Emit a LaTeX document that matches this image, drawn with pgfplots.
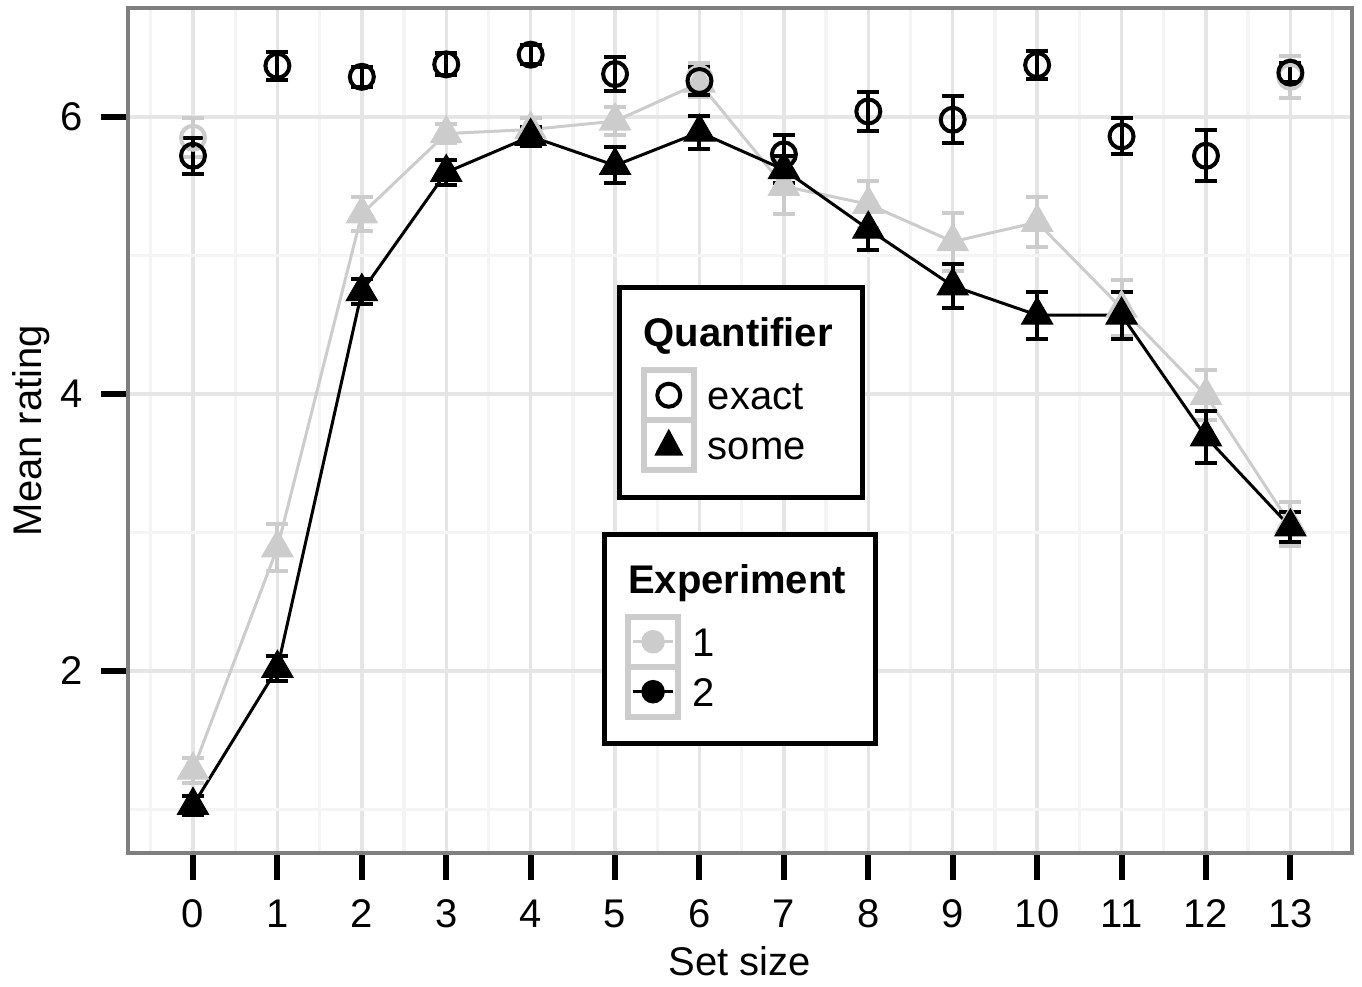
\documentclass[border=0pt]{standalone}
\usepackage{pgfplots}
\pgfplotsset{compat=1.18}
\usepackage{pgfplotstable}
\usepackage{fontspec}
\setmainfont{Liberation Sans}
\definecolor{g80}{RGB}{204,204,204}
\definecolor{gridA}{RGB}{229,229,229}
\definecolor{gridB}{RGB}{244,244,244}
\definecolor{frame}{RGB}{127,127,127}

% Experiment 2, "some"
\pgfplotstableread{
x y e
0 1.03 0.07
1 2.02 0.09
2 4.74 0.09
3 5.60 0.09
4 5.86 0.07
5 5.65 0.13
6 5.89 0.12
7 5.62 0.10
8 5.19 0.15
9 4.78 0.16
10 4.57 0.17
11 4.57 0.17
12 3.69 0.19
13 3.04 0.11
}\someB
% Experiment 1, "some"
\pgfplotstableread{
x y e
0 1.285 0.09
1 2.89 0.17
2 5.30 0.12
3 5.88 0.07
4 5.91 0.08
5 5.97 0.10
6 6.245 0.10
7 5.50 0.20
8 5.37 0.17
9 5.10 0.21
10 5.24 0.18
11 4.62 0.20
12 3.99 0.18
13 3.06 0.16
}\someA
% Experiment 2, "exact"
\pgfplotstableread{
x y e
0 5.72 0.13
1 6.37 0.10
2 6.29 0.07
3 6.38 0.08
4 6.45 0.07
5 6.31 0.12
6 6.26 0.10
7 5.73 0.14
8 6.04 0.14
9 5.98 0.17
10 6.375 0.10
11 5.86 0.13
12 5.72 0.185
13 6.32 0.07
}\exactB
% Experiment 1, "exact"
\pgfplotstableread{
x y e
0 5.85 0.14
6 6.28 0.11
13 6.29 0.15
}\exactA

\tikzset{
  ttl/.style={text height=16pt, text depth=11.75pt, font=\fontsize{20}{24}\selectfont\bfseries},
  lab/.style={text height=19.75pt, text depth=5.25pt},
}
\pgfplotsset{
  base/.style={scale only axis, width=612pt, height=422.5pt,
    xmin=-0.77, xmax=13.73, ymin=0.686, ymax=6.787},
  leg/.style={base, hide axis,
    legend style={draw=black, line width=2.5pt, fill=white,
      inner xsep=12pt, inner ysep=13.5pt,
      row sep=0pt, /tikz/column sep=7pt,
      nodes={inner sep=0pt}, font=\fontsize{20}{24}\selectfont,
      anchor=center},
    legend cell align=left},
}

\begin{document}
\begin{tikzpicture}
\begin{axis}[base,
  grid=both,
  major grid style={draw=gridA, line width=1.7pt},
  minor grid style={draw=gridB, line width=1.7pt},
  xtick={0,...,13}, ytick={2,4,6},
  minor xtick={-0.5,0.5,...,13.5}, minor ytick={1,3,5},
  tick pos=left, tick align=outside,
  major tick length=13.5pt, minor tick length=0pt,
  tick style={black, line width=3pt},
  axis line style={draw=frame, line width=2pt},
  ticklabel style={font=\fontsize{20}{24}\selectfont},
  xticklabel style={anchor=base, yshift=-23.5pt},
  yticklabel style={xshift=-5.5pt},
  /pgf/number format/assume math mode=true,
  xlabel={Set size}, ylabel={Mean rating},
  every axis x label/.style={at={(axis description cs:0.5,0)}, anchor=base,
    yshift=-61pt, font=\fontsize{20}{24}\selectfont},
  every axis y label/.style={at={(axis description cs:0,0.5)}, xshift=-43pt,
    rotate=90, anchor=base, font=\fontsize{20}{24}\selectfont},
]
\coordinate (SW) at (rel axis cs:0,0);
\coordinate (NE) at (rel axis cs:1,1);

\addplot[color=g80, line width=1.5pt, mark=triangle*, mark size=9pt,
  mark options={line width=0.5pt, fill=g80, draw=g80},
  error bars/.cd, y dir=both, y explicit,
  error bar style={line width=2pt, g80},
  error mark options={rotate=90, line width=2pt, mark size=5.5pt, g80}]
  table[x=x, y=y, y error=e]{\someA};

\addplot[only marks, color=g80, mark=o, mark size=6pt,
  mark options={line width=2pt, draw=g80},
  error bars/.cd, y dir=both, y explicit,
  error bar style={line width=2pt, g80},
  error mark options={rotate=90, line width=2pt, mark size=5.5pt, g80}]
  table[x=x, y=y, y error=e]{\exactA};

\addplot[color=black, line width=1.5pt, mark=triangle*, mark size=9pt,
  mark options={line width=0.5pt, fill=black, draw=black},
  error bars/.cd, y dir=both, y explicit,
  error bar style={line width=2pt, black},
  error mark options={rotate=90, line width=2pt, mark size=5.5pt, black}]
  table[x=x, y=y, y error=e]{\someB};

\addplot[only marks, color=black, mark=o, mark size=6pt,
  mark options={line width=2pt, draw=black},
  error bars/.cd, y dir=both, y explicit,
  error bar style={line width=2pt, black},
  error mark options={rotate=90, line width=2pt, mark size=5.5pt, black}]
  table[x=x, y=y, y error=e]{\exactB};
\end{axis}

% Quantifier legend
\begin{axis}[leg, legend style={at={(0.501,0.545)}}]
\addlegendimage{empty legend}
\addlegendentry[ttl]{\kern-32pt Quantifier\kern3pt}
\addlegendimage{legend image code/.code={
  \draw[overlay, g80, line width=3pt, fill=white] (0pt,-12.5pt) rectangle (25pt,12.5pt);
  \draw[overlay, black, line width=2pt, fill=none] (12.5pt,0pt) circle (5.75pt);
  \path[draw=none, fill=none] (0pt,0pt) -- (25pt,0pt);}}
\addlegendentry[lab]{exact}
\addlegendimage{legend image code/.code={
  \draw[overlay, g80, line width=3pt, fill=white] (0pt,-12.5pt) rectangle (25pt,12.5pt);
  \fill[overlay, black, draw=none] (12.5pt,8.25pt) -- (19.75pt,-5.25pt) -- (5.25pt,-5.25pt) -- cycle;
  \path[draw=none, fill=none] (0pt,0pt) -- (25pt,0pt);}}
\addlegendentry[lab]{some}
\end{axis}

% Experiment legend
\begin{axis}[leg, legend style={at={(0.5,0.2533)}}]
\addlegendimage{empty legend}
\addlegendentry[ttl]{\kern-32pt Experiment\kern3pt}
\addlegendimage{legend image code/.code={
  \draw[overlay, g80, line width=3pt, fill=white] (0pt,-12.5pt) rectangle (25pt,12.5pt);
  \draw[overlay, g80, line width=1.5pt] (2.5pt,0pt) -- (22.5pt,0pt);
  \fill[overlay, g80, draw=none] (12.5pt,0pt) circle (5.9pt);
  \path[draw=none, fill=none] (0pt,0pt) -- (25pt,0pt);}}
\addlegendentry[lab]{1}
\addlegendimage{legend image code/.code={
  \draw[overlay, g80, line width=3pt, fill=white] (0pt,-12.5pt) rectangle (25pt,12.5pt);
  \draw[overlay, black, line width=1.5pt] (2.5pt,0pt) -- (22.5pt,0pt);
  \fill[overlay, black, draw=none] (12.5pt,0pt) circle (5.9pt);
  \path[draw=none, fill=none] (0pt,0pt) -- (25pt,0pt);}}
\addlegendentry[lab]{2}
\end{axis}

\pgfresetboundingbox
\path[use as bounding box] ([xshift=-64pt,yshift=-66.5pt]SW) rectangle ([xshift=5pt,yshift=4pt]NE);
\end{tikzpicture}
\end{document}
